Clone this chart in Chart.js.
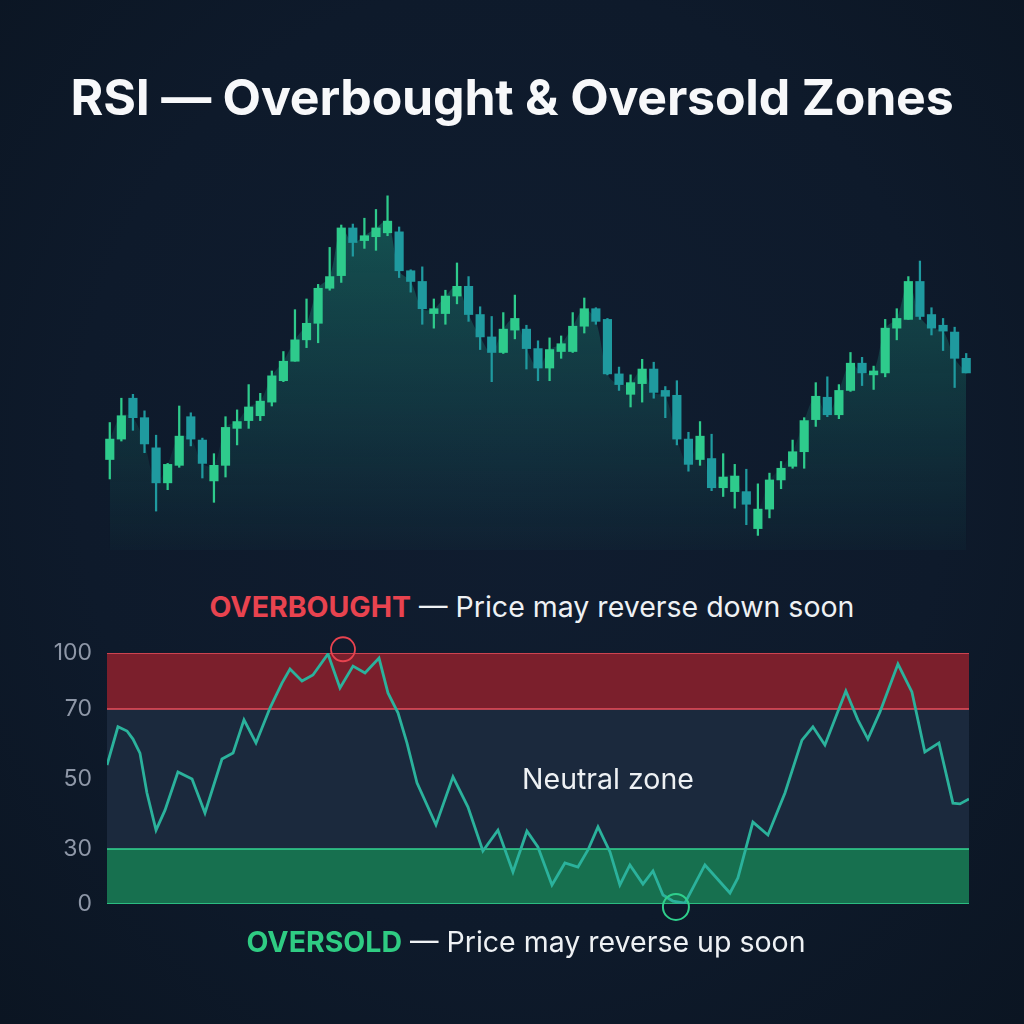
<!DOCTYPE html>
<html>
<head>
<meta charset="utf-8">
<script src="https://cdn.jsdelivr.net/npm/chart.js@4.4.1/dist/chart.umd.min.js"></script>
<style>
  html, body { margin: 0; padding: 0; }
  body {
    width: 1024px; height: 1024px; position: relative; overflow: hidden;
    background: radial-gradient(ellipse at 50% 45%, #101d30 0%, #0e1a2b 60%, #0b1522 100%);
    font-family: Inter, "Noto Sans", sans-serif;
  }
  .txt { position: absolute; left: 0; width: 1024px; text-align: center; white-space: nowrap; }
  #title { top: 69px; font-size: 50px; font-weight: 700; line-height: 56px; color: #f7f8fa; letter-spacing: -0.2px; }
  .note { font-size: 28.5px; line-height: 34px; color: #eef1f4; }
  .note b { font-weight: 700; }
  #ob { top: 590px; left: 20px; }
  #os { top: 925px; left: 14px; }
  #neutral { top: 762px; left: 508px; width: 200px; }
  canvas { position: absolute; left: 0; }
</style>
</head>
<body>
<div id="title" class="txt">RSI — Overbought &amp; Oversold Zones</div>
<canvas id="priceChart" width="1024" height="390" style="top:180px"></canvas>
<div id="ob" class="txt note"><b style="color:#e8434f">OVERBOUGHT</b> — Price may reverse down soon</div>
<canvas id="rsiChart" width="1024" height="330" style="top:620px"></canvas>
<div id="neutral" class="txt note">Neutral zone</div>
<div id="os" class="txt note"><b style="color:#2fcc83">OVERSOLD</b> — Price may reverse up soon</div>
<script>
// price candles (one per session)
const opens = [133,154,196,176,145,109,127,177,153,111,
  127,165,173,178,192,214,234,256,273,309,
  322,371,358,362,366,367,327,316,283,283,
  301,311,282,259,243,266,267,247,227,244,
  244,270,288,277,221,200,211,226,204,199,
  154,133,134,104,100,100,62,82,112,126,
  141,174,197,179,204,232,220,222,268,277,
  316,282,271,264,237];
const closes = [154,178,176,149,109,128,157,154,129,127,
  166,172,187,193,219,234,256,273,309,321,
  371,356,363,371,378,327,316,288,288,301,
  311,282,259,243,267,278,247,227,246,252,
  270,288,275,221,210,212,226,202,198,154,
  128,157,104,115,116,87,82,112,124,141,
  173,198,179,204,232,222,224,268,278,316,
  280,268,265,237,222];
const highs = [171,196,200,183,158,129,188,181,155,139,
  177,184,210,201,224,244,287,298,313,351,
  374,375,381,390,404,372,328,331,298,307,
  335,321,290,280,284,302,271,255,258,260,
  284,299,289,278,228,220,236,233,208,214,
  161,172,159,139,128,123,108,119,131,153,
  176,212,218,210,243,238,229,277,288,321,
  337,289,278,269,242];
const lows = [113,152,163,140,80,102,125,147,114,89,
  115,148,165,173,188,213,234,248,253,307,
  315,342,350,348,363,320,305,272,268,272,
  293,275,246,213,242,257,226,214,214,237,
  243,263,272,220,204,187,192,196,176,148,
  121,127,101,95,83,66,55,73,103,124,
  124,167,177,175,203,209,205,218,256,277,
  277,261,245,207,222];
const sessions = closes.map((_, i) => i + 1);

// RSI line: position (session index) and value
const rsiT = [0,0.94,1.72,2.23,2.83,3.43,4.21,4.98,6.09,7.30,8.41,9.87,10.82,11.76,12.79,13.99,
  15.02,15.71,16.74,17.68,18.97,20.0,21.12,22.15,23.35,24.12,24.98,25.75,26.61,28.24,29.70,
  30.99,32.27,33.56,34.85,36.05,36.99,38.20,39.31,40.43,41.29,42.15,43.18,44.03,44.89,46.01,
  46.87,47.73,48.58,49.61,51.33,53.48,54.16,55.45,56.74,58.20,59.66,60.60,61.63,63.43,64.46,
  65.32,66.35,67.90,69.10,70.21,71.42,72.62,73.22,74.0];
const rsiValues = [54,64.9,63.7,61.4,57.4,46,35.4,41.1,52,50,40.3,55.7,57.4,66.9,60.3,70.5,
  83.9,91.4,85,88.2,99.5,81.3,93,89.3,97.3,78.6,68.9,60.3,48.9,36.9,50.6,
  42,28.9,35.4,17.5,35.1,30.6,10.4,22.4,20.2,29.5,36.3,28.4,10.4,21.3,10.9,
  18,4.9,1.6,0.5,21.3,6,14.2,37.7,34,46,61.1,64.9,59.7,79.6,66.9,
  61.4,69.1,94.1,79.1,57.7,60.3,43.1,42.9,44.3];

// zone boundaries and axis ticks
const zoneLevels = [100, 70, 30, 0];
const rsiTicks = [0, 30, 50, 70, 100];

// highlighted extremes
const topMark = [{ x: 20.26, y: 102 }];
const bottomMark = [{ x: 48.84, y: -1.6 }];

const upColor = '#2ecb8c';
const downColor = '#1f9a9f';
const candleColor = ctx => closes[ctx.dataIndex] >= opens[ctx.dataIndex] ? upColor : downColor;

new Chart(document.getElementById('priceChart'), {
  data: {
    labels: sessions,
    datasets: [{
      type: 'bar',
      data: lows.map((l, i) => [l, highs[i]]),
      backgroundColor: candleColor,
      barThickness: 1.6,
      grouped: false,
      order: 2,
    }, {
      type: 'bar',
      data: opens.map((o, i) => [o, closes[i]]),
      backgroundColor: candleColor,
      barThickness: 8.5,
      grouped: false,
      order: 1,
    }, {
      type: 'line',
      data: closes,
      fill: 'start',
      borderWidth: 0,
      pointRadius: 0,
      tension: 0.35,
      order: 5,
      backgroundColor: ctx => {
        const a = ctx.chart.chartArea;
        if (!a) return 'transparent';
        const g = ctx.chart.ctx.createLinearGradient(0, a.top, 0, a.bottom);
        g.addColorStop(0, 'rgba(30,165,135,0.42)');
        g.addColorStop(0.6, 'rgba(30,155,135,0.2)');
        g.addColorStop(1, 'rgba(30,145,135,0.04)');
        return g;
      },
    }]
  },
  options: {
    responsive: false,
    animation: false,
    events: [],
    layout: { padding: { left: 104, right: 52, top: 10, bottom: 20 } },
    plugins: { legend: { display: false }, tooltip: { enabled: false } },
    scales: {
      x: { type: 'category', display: false, offset: true },
      y: { display: false, min: 40, max: 410 },
    }
  }
});

// y scale that gives the neutral zone more room than the extreme bands
class ZoneScale extends Chart.LinearScale {
  static id = 'zone';
  static defaults = Chart.LinearScale.defaults;
  _dec(v) {
    const L = [0, 30, 70, 100], F = [0, 0.219, 0.777, 1];
    const k = v < 30 ? 0 : v < 70 ? 1 : 2;
    return F[k] + (v - L[k]) / (L[k + 1] - L[k]) * (F[k + 1] - F[k]);
  }
  getPixelForValue(v) {
    if (v === null || isNaN(v)) return NaN;
    return this.getPixelForDecimal(this._dec(v));
  }
  getValueForPixel(p) {
    const d = this.getDecimalForPixel(p);
    const L = [0, 30, 70, 100], F = [0, 0.219, 0.777, 1];
    const k = d < F[1] ? 0 : d < F[2] ? 1 : 2;
    return L[k] + (d - F[k]) / (F[k + 1] - F[k]) * (L[k + 1] - L[k]);
  }
}
Chart.register(ZoneScale);

const zoneFill = ['#7b1f2c', '#1b293d', '#17704f', 'transparent'];
const zoneLine = ['#e8505d', '#e8505d', '#33d692', '#33d692'];

new Chart(document.getElementById('rsiChart'), {
  type: 'line',
  data: {
    datasets: [
      ...zoneLevels.map((lvl, i) => ({
        data: [{ x: 0, y: lvl }, { x: sessions.length - 1, y: lvl }],
        borderColor: zoneLine[i],
        borderWidth: 1.6,
        backgroundColor: zoneFill[i],
        fill: i < zoneLevels.length - 1 ? '+1' : false,
        pointRadius: 0,
        order: 5,
      })),
      {
        data: rsiT.map((t, i) => ({ x: t, y: rsiValues[i] })),
        borderColor: '#2bb29c',
        borderWidth: 2.8,
        pointRadius: 0,
        tension: 0,
        fill: false,
        order: 1,
      },
      {
        data: topMark,
        showLine: false,
        pointRadius: 12,
        pointBorderWidth: 1.8,
        pointBorderColor: '#e8434f',
        pointBackgroundColor: 'rgba(0,0,0,0)',
        clip: false,
        order: 0,
      },
      {
        data: bottomMark,
        showLine: false,
        pointRadius: 13,
        pointBorderWidth: 2,
        pointBorderColor: '#2fcf8c',
        pointBackgroundColor: 'rgba(0,0,0,0)',
        clip: false,
        order: 0,
      }
    ]
  },
  options: {
    responsive: false,
    animation: false,
    events: [],
    layout: { padding: { left: 0, right: 55, top: 33, bottom: 46 } },
    plugins: {
      legend: { display: false },
      tooltip: { enabled: false },
      filler: { drawTime: 'beforeDatasetsDraw' },
    },
    scales: {
      x: { type: 'linear', display: false, min: 0, max: sessions.length - 1 },
      y: {
        type: 'zone',
        min: 0,
        max: 100,
        afterFit: s => { s.width = 107; },
        afterBuildTicks: s => { s.ticks = rsiTicks.map(v => ({ value: v })); },
        grid: { display: false, drawTicks: false },
        border: { display: false },
        ticks: {
          padding: 15,
          color: '#8e97a7',
          font: { family: 'Inter', size: 23 },
        }
      }
    }
  }
});
</script>
</body>
</html>
